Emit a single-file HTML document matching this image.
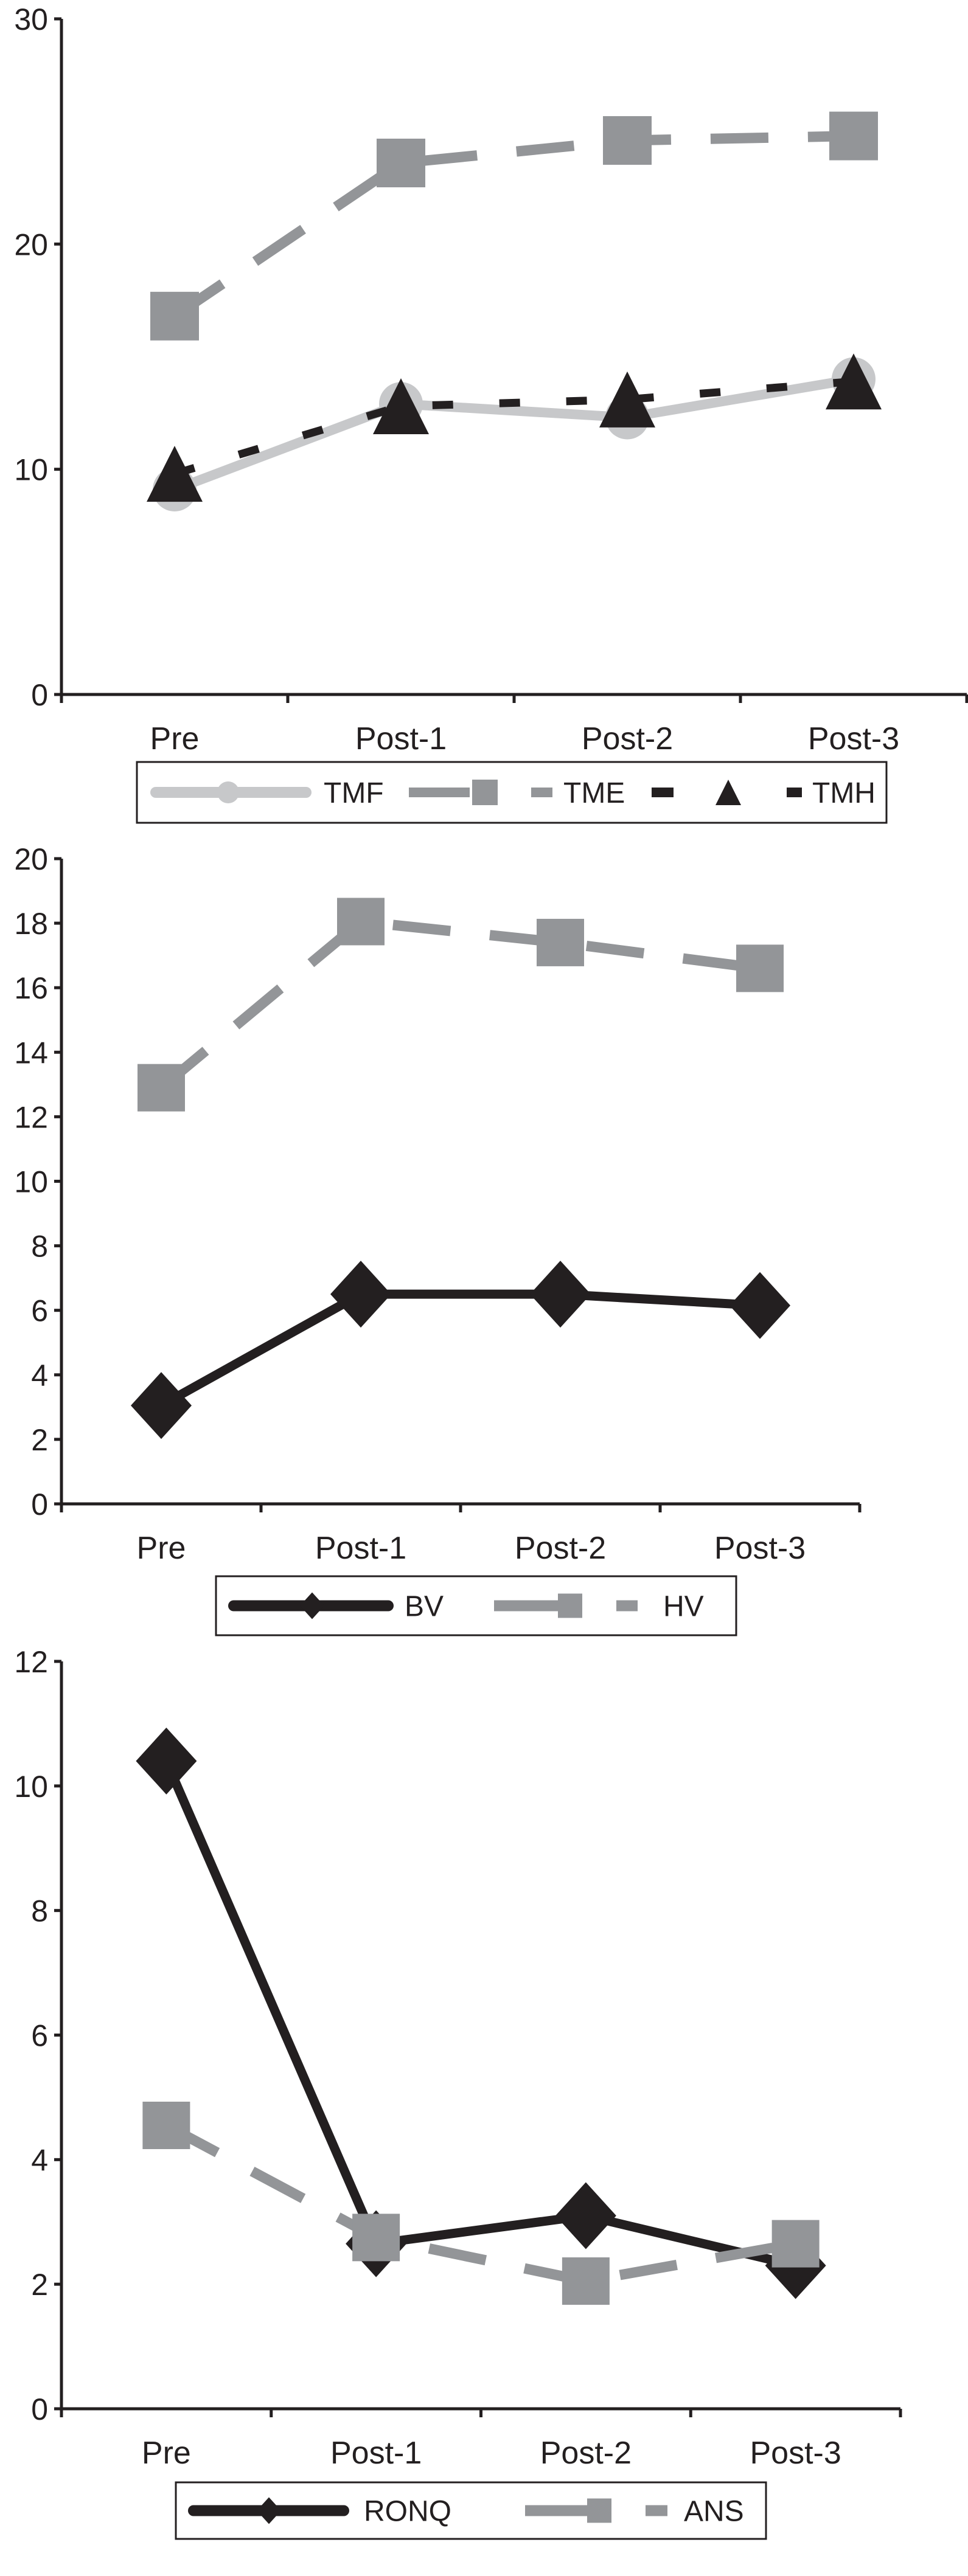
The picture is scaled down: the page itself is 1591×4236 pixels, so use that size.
<!DOCTYPE html>
<html><head><meta charset="utf-8"><style>
html,body{margin:0;padding:0;background:#fff;}
svg{display:block;font-family:"Liberation Sans",sans-serif;}
</style></head><body>
<svg id="root" width="1591" height="4236" viewBox="0 0 1591 4236" xmlns="http://www.w3.org/2000/svg"></svg>
<script>
const categories = ["Pre","Post-1","Post-2","Post-3"];
// Chart 1
const c1Ticks = [0,10,20,30];
const tmfValues = [9.1,12.9,12.3,14.0];
const tmeValues = [16.8,23.6,24.6,24.8];
const tmhValues = [9.8,12.8,13.1,13.9];
// Chart 2
const c2Ticks = [0,2,4,6,8,10,12,14,16,18,20];
const bvValues = [3.05,6.5,6.5,6.15];
const hvValues = [12.9,18.05,17.4,16.6];
// Chart 3
const c3Ticks = [0,2,4,6,8,10,12];
const ronqValues = [10.4,2.65,3.1,2.3];
const ansValues = [4.55,2.75,2.05,2.65];

const NS="http://www.w3.org/2000/svg";
const root=document.getElementById('root');
const BLACK="#231f20", GREY="#939598", LIGHT="#c7c8ca";
function mk(tag,attrs,parent){const e=document.createElementNS(NS,tag);for(const k in attrs)e.setAttribute(k,attrs[k]);(parent||root).appendChild(e);return e;}

function chart(cfg){
  const g=mk('g',{});
  
  
  const ymax=cfg.ticks[cfg.ticks.length-1];
  const y=v=>cfg.y0-(cfg.y0-cfg.yTop)*v/ymax;
  const n=categories.length, w=(cfg.xEnd-cfg.xAxis)/n;
  const x=i=>cfg.xAxis+w*(i+0.5);
  // axes
  const ya=mk('line',{x1:cfg.xAxis,y1:cfg.yTop,x2:cfg.xAxis,y2:cfg.y0+12,stroke:BLACK,'stroke-width':5},g);
  
  
  const xa=mk('line',{x1:cfg.xAxis-12,y1:cfg.y0,x2:cfg.xEnd,y2:cfg.y0,stroke:BLACK,'stroke-width':5},g);
  
  
  cfg.ticks.forEach(t=>{
    mk('line',{x1:cfg.xAxis-12,y1:y(t),x2:cfg.xAxis,y2:y(t),stroke:BLACK,'stroke-width':5},g);
    const tx=mk('text',{x:cfg.xAxis-22,y:y(t)+18,'text-anchor':'end','font-size':50,fill:BLACK},g);
    tx.textContent=t;
    
    
  });
  for(let i=0;i<=n;i++) mk('line',{x1:cfg.xAxis+w*i,y1:cfg.y0,x2:cfg.xAxis+w*i,y2:cfg.y0+14,stroke:BLACK,'stroke-width':5},g);
  categories.forEach((c,i)=>{
    const tx=mk('text',{x:x(i),y:cfg.y0+90,'text-anchor':'middle','font-size':52,fill:BLACK},g);
    tx.textContent=c;
    
    
  });
  cfg.series.forEach(s=>{
    const sg=mk('g',{},g);
    
    
    const pts=s.values.map((v,i)=>x(i)+','+y(v)).join(' ');
    const pl=mk('polyline',{points:pts,fill:'none',stroke:s.color,'stroke-width':s.sw,'stroke-dasharray':s.dash||'none','stroke-linejoin':'round'},sg);
    
    
    s.values.forEach((v,i)=>{
      const m=marker(s.marker,x(i),y(v),s.mcolor,sg,s.msize);
      
      
    });
  });
  // legend
  const L=cfg.legend;
  const lg=mk('g',{},g);
  
  
  mk('rect',{x:L.x,y:L.y,width:L.w,height:L.h,fill:'none',stroke:BLACK,'stroke-width':3},lg);
  const cy=L.y+L.h/2;
  L.items.forEach(it=>{
    const eg=mk('g',{},lg);
    
    
    it.segs.forEach(sg=>mk('line',{x1:sg[0],y1:cy,x2:sg[1],y2:cy,stroke:it.color,'stroke-width':it.sw,'stroke-linecap':sg[2]||'butt'},eg));
    marker(it.marker,it.mx,cy,it.mcolor,eg,it.msize);
    const t=mk('text',{x:it.tx,y:cy+17,'font-size':48,fill:BLACK},eg);
    t.textContent=it.label;
  });
}
function marker(type,cx,cy,color,parent,s){
  if(type==='circle') return mk('circle',{cx:cx,cy:cy,r:s/2,fill:color},parent);
  if(type==='square') return mk('rect',{x:cx-s/2,y:cy-s/2,width:s,height:s,fill:color},parent);
  if(type==='triangle') return mk('polygon',{points:`${cx},${cy-s/2} ${cx+s/2},${cy+s/2} ${cx-s/2},${cy+s/2}`,fill:color,'stroke-linejoin':'round'},parent);
  if(type==='diamond') return mk('polygon',{points:`${cx},${cy-s*0.55} ${cx+s/2},${cy} ${cx},${cy+s*0.55} ${cx-s/2},${cy}`,fill:color},parent);
}

chart({name:'chart-tm',ticks:c1Ticks,xAxis:101,xEnd:1589,yTop:31,y0:1142,
  series:[
    {label:'TMF',values:tmfValues,color:LIGHT,sw:16,marker:'circle',mcolor:LIGHT,msize:72},
    {label:'TME',values:tmeValues,color:GREY,sw:17,dash:'95 65',marker:'square',mcolor:GREY,msize:80},
    {label:'TMH',values:tmhValues,color:BLACK,sw:13,dash:'34 76',marker:'triangle',mcolor:BLACK,msize:92}],
  legend:{x:225,y:1253,w:1232,h:100,items:[
    {label:'TMF',color:LIGHT,sw:18,segs:[[256,503,'round']],marker:'circle',mx:375,mcolor:LIGHT,msize:36,tx:532},
    {label:'TME',color:GREY,sw:16,segs:[[672,772],[873,908]],marker:'square',mx:797,mcolor:GREY,msize:42,tx:926},
    {label:'TMH',color:BLACK,sw:16,segs:[[1071,1107],[1293,1318]],marker:'triangle',mx:1197,mcolor:BLACK,msize:42,tx:1335}]}
});
chart({name:'chart-volume',ticks:c2Ticks,xAxis:101,xEnd:1413,yTop:1412,y0:2473,
  series:[
    {label:'BV',values:bvValues,color:BLACK,sw:15,marker:'diamond',mcolor:BLACK,msize:100},
    {label:'HV',values:hvValues,color:GREY,sw:17,dash:'95 65',marker:'square',mcolor:GREY,msize:78}],
  legend:{x:355,y:2592,w:855,h:97,items:[
    {label:'BV',color:BLACK,sw:18,segs:[[384,638,'round']],marker:'diamond',mx:513,mcolor:BLACK,msize:40,tx:665},
    {label:'HV',color:GREY,sw:18,segs:[[812,920],[1013,1048]],marker:'square',mx:937,mcolor:GREY,msize:40,tx:1090}]}
});
chart({name:'chart-ronq-ans',ticks:c3Ticks,xAxis:101,xEnd:1480,yTop:2732,y0:3961,
  series:[
    {label:'RONQ',values:ronqValues,color:BLACK,sw:15,marker:'diamond',mcolor:BLACK,msize:100},
    {label:'ANS',values:ansValues,color:GREY,sw:17,dash:'95 65',marker:'square',mcolor:GREY,msize:78}],
  legend:{x:289,y:4082,w:970,h:93,items:[
    {label:'RONQ',color:BLACK,sw:18,segs:[[318,565,'round']],marker:'diamond',mx:442,mcolor:BLACK,msize:40,tx:598},
    {label:'ANS',color:GREY,sw:18,segs:[[863,965],[1061,1097]],marker:'square',mx:985,mcolor:GREY,msize:40,tx:1124}]}
});
</script>
</body></html>
